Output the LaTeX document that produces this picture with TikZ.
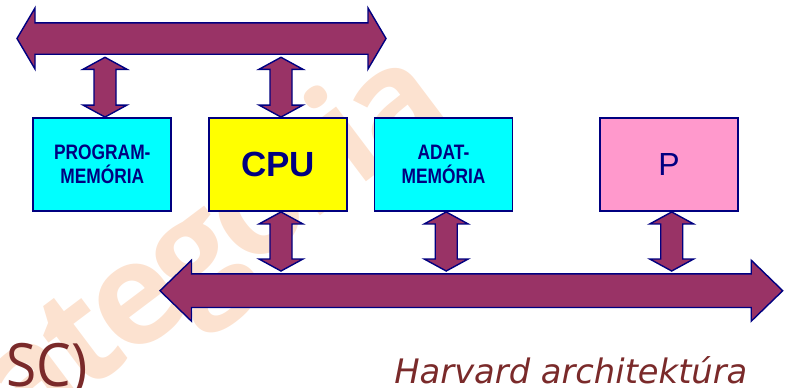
\documentclass[tikz,border=0pt]{standalone}
\usepackage{fontspec}
\setmainfont{Liberation Sans}
\newfontfamily\narrowsans[FakeStretch=0.83]{Liberation Sans}
\newfontfamily\wmfont[LetterSpace=-5]{Open Sans}
\newfontfamily\capfont[FakeStretch=0.92]{Open Sans}
\newfontfamily\widefont{DejaVu Sans}
\usetikzlibrary{calc}

\definecolor{busfill}{HTML}{993366}
\definecolor{edgeblue}{HTML}{000080}
\definecolor{memcyan}{HTML}{00FFFF}
\definecolor{cpuyellow}{HTML}{FFFF00}
\definecolor{perpink}{HTML}{FF99CC}
\definecolor{wmpeach}{RGB}{252,226,208}
\definecolor{capbrown}{RGB}{122,42,42}

\tikzset{
  unitbox/.style={draw=edgeblue, line width=1.1pt, minimum width=2.76cm,
    minimum height=1.86cm, inner sep=0pt, text=edgeblue},
  memtext/.style={font=\narrowsans\bfseries\fontsize{11.9}{13.9}\selectfont, align=center},
  blockarrow/.style={draw=edgeblue, fill=busfill, line width=0.8pt, line join=miter},
  caption/.style={text=capbrown, anchor=base west, inner sep=0pt},
}

% vertical double block arrow: #1 lower tip, #2 upper tip
\newcommand\vlink[2]{%
  \draw[blockarrow] (#2) -- ($(#2)+(22,12)$) -- ($(#2)+(11,12)$)
    -- ($(#1)+(11,-12)$) -- ($(#1)+(22,-12)$) -- (#1)
    -- ($(#1)+(-22,-12)$) -- ($(#1)+(-11,-12)$)
    -- ($(#2)+(-11,12)$) -- ($(#2)+(-22,12)$) -- cycle;}

% horizontal bus: #1 left tip, #2 right tip, #3 head length,
% #4 head half width, #5 shaft half width
\newcommand\hbus[5]{%
  \draw[blockarrow] (#1) -- ($(#1)+(#3,-#4)$) -- ($(#1)+(#3,-#5)$)
    -- ($(#2)+(-#3,-#5)$) -- ($(#2)+(-#3,-#4)$) -- (#2)
    -- ($(#2)+(-#3,#4)$) -- ($(#2)+(-#3,#5)$)
    -- ($(#1)+(#3,#5)$) -- ($(#1)+(#3,#4)$) -- cycle;}

\begin{document}
\begin{tikzpicture}[x=0.02cm, y=-0.02cm]
\useasboundingbox (0,0) rectangle (790,387);

% faint background lettering
\begin{scope}
  \clip (0,0) rectangle (790,387);
  \node[text=wmpeach, font=\wmfont\bfseries\fontsize{81}{81}\selectfont,
        rotate=37, inner sep=0pt] (wm) at (183,273) {kategória};
\end{scope}

% functional units
\node[unitbox, fill=memcyan, memtext] (prog) at (102.3,164.5) {PROGRAM-\\MEMÓRIA};
\node[unitbox, fill=cpuyellow, font=\bfseries\fontsize{19.9}{22}\selectfont] (cpu) at (278.3,164.5) {CPU};
\node[unitbox, fill=memcyan, memtext] (data) at (443.5,164.5) {ADAT-\\MEMÓRIA};
\node[unitbox, fill=perpink, font=\fontsize{18.2}{20}\selectfont] (per) at (669,164.5) {P};

% buses
\coordinate (tbL) at (17,38.5);
\coordinate (tbR) at (386,38.5);
\hbus{tbL}{tbR}{18}{30.5}{15.7}
\coordinate (bbL) at (160,290.7);
\coordinate (bbR) at (782.7,290.7);
\hbus{bbL}{bbR}{31.5}{30.5}{16.8}

% links to the upper bus
\coordinate (progT) at ($(prog.north)+(2.7,0)$);
\coordinate (progB) at ($(progT |- tbL)+(0,18.8)$);
\vlink{progT}{progB}
\coordinate (cpuT) at ($(cpu.north)+(2.7,0)$);
\coordinate (cpuB) at ($(cpuT |- tbL)+(0,18.8)$);
\vlink{cpuT}{cpuB}

% links to the lower bus
\coordinate (cpuS) at ($(cpu.south)+(2.7,0)$);
\coordinate (cpuL) at ($(cpuS |- bbL)+(0,-19.7)$);
\vlink{cpuL}{cpuS}
\coordinate (dataS) at ($(data.south)+(2.7,0)$);
\coordinate (dataL) at ($(dataS |- bbL)+(0,-19.7)$);
\vlink{dataL}{dataS}
\coordinate (perS) at ($(per.south)+(2.7,0)$);
\coordinate (perL) at ($(perS |- bbL)+(0,-19.7)$);
\vlink{perL}{perS}

% captions
\node[caption, font=\capfont\fontsize{34}{34}\selectfont] (sc) at (6,386) {SC)};
\node[caption, font=\widefont\itshape\fontsize{19.2}{19.2}\selectfont] (arch) at (394,383) {Harvard architektúra};
\end{tikzpicture}
\end{document}
